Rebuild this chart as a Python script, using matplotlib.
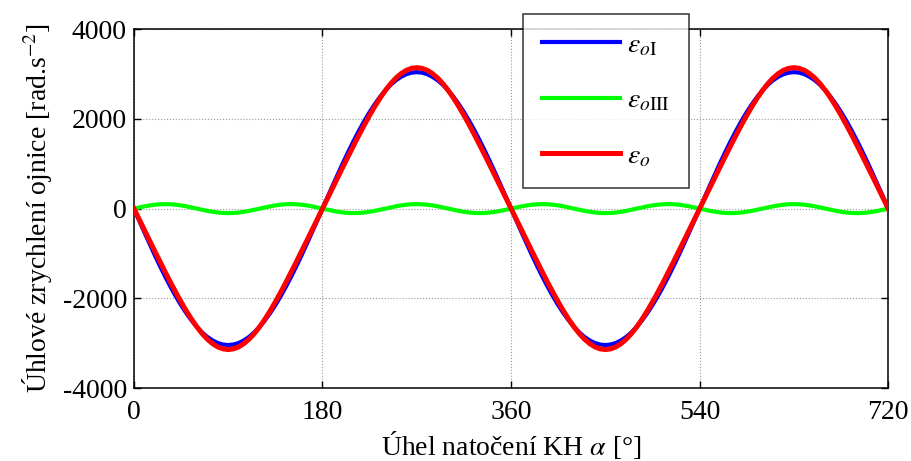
import matplotlib
matplotlib.use("Agg")
import matplotlib.pyplot as plt

plt.rcParams['font.family'] = ['Liberation Serif', 'DejaVu Serif']
plt.rcParams['mathtext.fontset'] = 'stix'
plt.rcParams['axes.unicode_minus'] = False

# crank angle [deg], 5 deg step
alpha = list(range(0, 721, 5))

# first-harmonic component of connecting-rod angular acceleration
eps_oI = [
    0, -265, -528, -787, -1040, -1285, -1520, -1744, -1954, -2150, -2329, -2490,
    -2633, -2755, -2857, -2936, -2994, -3028, -3040, -3028, -2994, -2936, -2857, -2755,
    -2633, -2490, -2329, -2150, -1954, -1744, -1520, -1285, -1040, -787, -528, -265,
    0, 265, 528, 787, 1040, 1285, 1520, 1744, 1954, 2150, 2329, 2490,
    2633, 2755, 2857, 2936, 2994, 3028, 3040, 3028, 2994, 2936, 2857, 2755,
    2633, 2490, 2329, 2150, 1954, 1744, 1520, 1285, 1040, 787, 528, 265,
    0, -265, -528, -787, -1040, -1285, -1520, -1744, -1954, -2150, -2329, -2490,
    -2633, -2755, -2857, -2936, -2994, -3028, -3040, -3028, -2994, -2936, -2857, -2755,
    -2633, -2490, -2329, -2150, -1954, -1744, -1520, -1285, -1040, -787, -528, -265,
    0, 265, 528, 787, 1040, 1285, 1520, 1744, 1954, 2150, 2329, 2490,
    2633, 2755, 2857, 2936, 2994, 3028, 3040, 3028, 2994, 2936, 2857, 2755,
    2633, 2490, 2329, 2150, 1954, 1744, 1520, 1285, 1040, 787, 528, 265,
    0]

# third-harmonic component
eps_oIII = [
    0, 26, 50, 71, 87, 97, 100, 97, 87, 71, 50, 26,
    0, -26, -50, -71, -87, -97, -100, -97, -87, -71, -50, -26,
    0, 26, 50, 71, 87, 97, 100, 97, 87, 71, 50, 26,
    0, -26, -50, -71, -87, -97, -100, -97, -87, -71, -50, -26,
    0, 26, 50, 71, 87, 97, 100, 97, 87, 71, 50, 26,
    0, -26, -50, -71, -87, -97, -100, -97, -87, -71, -50, -26,
    0, 26, 50, 71, 87, 97, 100, 97, 87, 71, 50, 26,
    0, -26, -50, -71, -87, -97, -100, -97, -87, -71, -50, -26,
    0, 26, 50, 71, 87, 97, 100, 97, 87, 71, 50, 26,
    0, -26, -50, -71, -87, -97, -100, -97, -87, -71, -50, -26,
    0, 26, 50, 71, 87, 97, 100, 97, 87, 71, 50, 26,
    0, -26, -50, -71, -87, -97, -100, -97, -87, -71, -50, -26,
    0]

# total angular acceleration
eps_o = [
    0, -239, -478, -716, -953, -1188, -1420, -1647, -1867, -2079, -2279, -2464,
    -2633, -2781, -2907, -3007, -3081, -3125, -3140, -3125, -3081, -3007, -2907, -2781,
    -2633, -2464, -2279, -2079, -1867, -1647, -1420, -1188, -953, -716, -478, -239,
    0, 239, 478, 716, 953, 1188, 1420, 1647, 1867, 2079, 2279, 2464,
    2633, 2781, 2907, 3007, 3081, 3125, 3140, 3125, 3081, 3007, 2907, 2781,
    2633, 2464, 2279, 2079, 1867, 1647, 1420, 1188, 953, 716, 478, 239,
    0, -239, -478, -716, -953, -1188, -1420, -1647, -1867, -2079, -2279, -2464,
    -2633, -2781, -2907, -3007, -3081, -3125, -3140, -3125, -3081, -3007, -2907, -2781,
    -2633, -2464, -2279, -2079, -1867, -1647, -1420, -1188, -953, -716, -478, -239,
    0, 239, 478, 716, 953, 1188, 1420, 1647, 1867, 2079, 2279, 2464,
    2633, 2781, 2907, 3007, 3081, 3125, 3140, 3125, 3081, 3007, 2907, 2781,
    2633, 2464, 2279, 2079, 1867, 1647, 1420, 1188, 953, 716, 478, 239,
    0]

x_ticks = [0, 180, 360, 540, 720]
y_ticks = [-4000, -2000, 0, 2000, 4000]

fig = plt.figure(figsize=(9.11, 4.61), dpi=100)
ax = fig.add_axes([0.147, 0.158, 0.828, 0.779])

ax.plot(alpha, eps_oI, color='#0000ff', lw=3.0, label=r'$\varepsilon_{o\mathrm{I}}$', zorder=3)
ax.plot(alpha, eps_oIII, color='#00ff00', lw=3.0, label=r'$\varepsilon_{o\mathrm{III}}$', zorder=3)
ax.plot(alpha, eps_o, color='#ff0000', lw=3.6, label=r'$\varepsilon_{o}$', zorder=4)

ax.set_xlim(0, 720)
ax.set_ylim(-4000, 4000)
ax.set_xticks(x_ticks)
ax.set_yticks(y_ticks)
ax.tick_params(direction='in', top=True, right=True, length=5, width=1.0,
               labelsize=20)
ax.tick_params(axis='x', pad=8.5)
ax.tick_params(axis='y', pad=5)
ax.grid(True, linestyle=':', color='#9a9a9a', lw=0.8)
for s in ax.spines.values():
    s.set_linewidth(1.1)

ax.set_xlabel(r'Úhel natočení KH $\alpha$ [°]', fontsize=20, labelpad=3)
ax.set_ylabel(r'Úhlové zrychlení ojnice [rad.s$^{-2}$]', fontsize=20, labelpad=6)

leg = fig.legend(loc='upper left', bbox_to_anchor=(0.574, 0.970),
                 bbox_transform=fig.transFigure, fontsize=20,
                 frameon=True, fancybox=False, edgecolor='black',
                 handlelength=2.8, labelspacing=1.08, borderpad=0.68,
                 handletextpad=0.25, borderaxespad=0)
leg.get_frame().set_linewidth(1.1)
leg.set_zorder(10)

fig.savefig('out.png', dpi=100)
